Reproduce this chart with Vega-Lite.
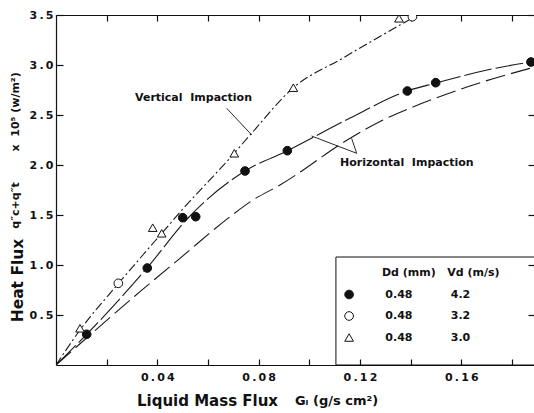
{
"$schema":"https://vega.github.io/schema/vega-lite/v6.json",
"width":478,"height":350,
"autosize":{"type":"none"},
"padding":{"left":56,"top":15,"right":0,"bottom":48},
"background":"white",
"config":{
 "view":{"stroke":null},
 "font":"DejaVu Sans",
 "axis":{"labelFont":"DejaVu Sans","labelFontWeight":"bold","labelFontSize":11,"labelColor":"#111","titleFont":"DejaVu Sans","titleColor":"#111","titleFontWeight":"bold","domainColor":"#111","tickColor":"#111","grid":false,"domainWidth":1.2,"tickWidth":1.2,"labelFlush":false,"labelOverlap":false}
},
"datasets":{
 "curves":[
  {"c":"upper","x":0,"y":0},{"c":"upper","x":0.00948,"y":0.35},{"c":"upper","x":0.02448,"y":0.81},{"c":"upper","x":0.03395,"y":1.09},{"c":"upper","x":0.04185,"y":1.32},{"c":"upper","x":0.04974,"y":1.55},{"c":"upper","x":0.06869,"y":2.07},{"c":"upper","x":0.07698,"y":2.31},{"c":"upper","x":0.09357,"y":2.77},{"c":"upper","x":0.1133,"y":3.07},{"c":"upper","x":0.1358,"y":3.40},{"c":"upper","x":0.1429,"y":3.5},
  {"c":"middle","x":0,"y":0},{"c":"middle","x":0.01224,"y":0.31},{"c":"middle","x":0.03593,"y":0.97},{"c":"middle","x":0.05251,"y":1.48},{"c":"middle","x":0.07462,"y":1.94},{"c":"middle","x":0.0912,"y":2.14},{"c":"middle","x":0.1161,"y":2.47},{"c":"middle","x":0.1386,"y":2.74},{"c":"middle","x":0.15,"y":2.82},{"c":"middle","x":0.1702,"y":2.95},{"c":"middle","x":0.1875,"y":3.03},
  {"c":"lower","x":0,"y":0},{"c":"lower","x":0.03316,"y":0.733},{"c":"lower","x":0.04895,"y":1.067},{"c":"lower","x":0.06869,"y":1.483},{"c":"lower","x":0.07777,"y":1.65},{"c":"lower","x":0.08843,"y":1.80},{"c":"lower","x":0.1161,"y":2.267},{"c":"lower","x":0.1291,"y":2.45},{"c":"lower","x":0.1409,"y":2.58},{"c":"lower","x":0.1634,"y":2.79},{"c":"lower","x":0.1871,"y":2.967}
 ],
 "points":[
  {"V":"4.2","x":0.01212,"y":0.307},{"V":"4.2","x":0.03604,"y":0.97},{"V":"4.2","x":0.05002,"y":1.473},{"V":"4.2","x":0.05515,"y":1.483},{"V":"4.2","x":0.07462,"y":1.94},{"V":"4.2","x":0.09132,"y":2.143},{"V":"4.2","x":0.1387,"y":2.74},{"V":"4.2","x":0.1499,"y":2.823},{"V":"4.2","x":0.1875,"y":3.03},
  {"V":"3.2","x":0.0246,"y":0.817},{"V":"3.2","x":0.1407,"y":3.483},
  {"V":"3.0","x":0.00948,"y":0.367},{"V":"3.0","x":0.03818,"y":1.373},{"V":"3.0","x":0.04173,"y":1.317},{"V":"3.0","x":0.07039,"y":2.117},{"V":"3.0","x":0.09369,"y":2.773},{"V":"3.0","x":0.1354,"y":3.467}
 ],
 "notes":[
  {"label":"Vertical\u00a0\u00a0Impaction","x":0.03119,"y":2.667},
  {"label":"Horizontal\u00a0\u00a0Impaction","x":0.1121,"y":2.023}
 ],
 "leaders":[
  {"x":0.06739,"y":2.567,"x2":0.07726,"y2":2.30},
  {"x":0.1009,"y":2.29,"x2":0.1187,"y2":2.117},
  {"x":0.1167,"y":2.267,"x2":0.1187,"y2":2.117}
 ]
},
"layer":[
 {"data":{"name":"curves"},
  "mark":{"type":"line","interpolate":"monotone","color":"#1a1a1a","strokeWidth":1.1,"clip":true},
  "encoding":{
   "x":{"field":"x","type":"quantitative","scale":{"domain":[0,0.1887],"nice":false,"zero":false},
    "axis":{"orient":"bottom","values":[0.02,0.04,0.06,0.08,0.1,0.12,0.14,0.16,0.18],"labelExpr":"round(datum.value*100) % 4 == 0 ? replace(format(datum.value, '.2f'), regexp('(.)(?=.)', 'g'), '$1\u2009') : ''","tickSize":-6,"labelPadding":12,"title":"Liquid Mass Flux","titleFontSize":15,"titleX":151,"titleY":35,"titleBaseline":"middle","titleAlign":"center"}},
   "y":{"field":"y","type":"quantitative","scale":{"domain":[0,3.5],"nice":false,"zero":false},
    "axis":{"orient":"left","values":[0.5,1,1.5,2,2.5,3,3.5],"labelExpr":"replace(format(datum.value, '.1f'), regexp('(.)(?=.)', 'g'), '$1\u2009')","tickSize":-7,"labelPadding":10,"title":"Heat Flux","titleFontSize":15.5,"titleX":-39,"titleY":265,"titleAngle":270,"titleBaseline":"middle","titleAlign":"center"}},
   "strokeDash":{"field":"c","type":"nominal","scale":{"domain":["upper","middle","lower"],"range":[[9,3,2,3],[28,4],[20,6]]},"legend":null}
  }},
 {"data":{"name":"leaders"},
  "mark":{"type":"rule","color":"#111","strokeWidth":0.9},
  "encoding":{
   "x":{"field":"x","type":"quantitative","scale":{"domain":[0,0.1887],"nice":false,"zero":false},"axis":null},
   "y":{"field":"y","type":"quantitative","scale":{"domain":[0,3.5],"nice":false,"zero":false},"axis":null},
   "x2":{"field":"x2"},"y2":{"field":"y2"}}},
 {"data":{"name":"notes"},
  "mark":{"type":"text","align":"left","baseline":"middle","font":"DejaVu Sans","fontWeight":"bold","fontSize":11,"color":"#111"},
  "encoding":{
   "x":{"field":"x","type":"quantitative","scale":{"domain":[0,0.1887],"nice":false,"zero":false},"axis":null},
   "y":{"field":"y","type":"quantitative","scale":{"domain":[0,3.5],"nice":false,"zero":false},"axis":null},
   "text":{"field":"label"}}},
 {"data":{"values":[{}]},
  "mark":{"type":"rect","fill":"white","fillOpacity":0,"stroke":"#111","strokeWidth":1},
  "encoding":{
   "x":{"datum":0.1105,"type":"quantitative","scale":{"domain":[0,0.1887],"nice":false,"zero":false},"axis":null},
   "x2":{"datum":0.2},
   "y":{"datum":0,"type":"quantitative","scale":{"domain":[0,3.5],"nice":false,"zero":false},"axis":null},
   "y2":{"datum":1.08}}},
 {"data":{"name":"points"},
  "mark":{"type":"point","strokeWidth":1,"size":75,"opacity":1,"clip":true},
  "encoding":{
   "x":{"field":"x","type":"quantitative","scale":{"domain":[0,0.1887],"nice":false,"zero":false},
    "axis":{"orient":"top","values":[0.02,0.04,0.06,0.08,0.1,0.12,0.14,0.16,0.18],"labels":false,"tickSize":-6,"title":"G\u2097 (g/s cm\u00b2)","titleFontSize":13,"titleX":280,"titleY":385,"titleBaseline":"middle","titleAlign":"center"}},
   "y":{"field":"y","type":"quantitative","scale":{"domain":[0,3.5],"nice":false,"zero":false},
    "axis":{"orient":"right","values":[0.5,1,1.5,2,2.5,3,3.5],"labels":false,"domain":false,"tickSize":-6,"title":"q\u2033c+q\u2033t\u00a0\u00a0\u00a0\u00a0\u00a0\u00a0\u00a0\u00a0x\u00a0\u00a010\u2075\u00a0(w/m\u00b2)","titleFontSize":11,"titleX":-519,"titleY":135,"titleAngle":270,"titleBaseline":"middle","titleAlign":"center"}},
   "shape":{"field":"V","type":"nominal","scale":{"domain":["4.2","3.2","3.0"],"range":["circle","circle","triangle-up"]},
    "legend":{"title":"\u200b\u00a0\u00a0\u00a0\u00a0\u00a0\u00a0\u00a0\u00a0\u00a0\u00a0Dd (mm)\u00a0\u00a0\u00a0Vd (m/s)","orient":"none","direction":"vertical","legendX":287.6,"legendY":252,"padding":0,"symbolSize":75,"symbolStrokeWidth":1,"labelExpr":"'0.48\u00a0\u00a0\u00a0\u00a0\u00a0\u00a0\u00a0\u00a0\u00a0\u00a0' + datum.label","labelFont":"DejaVu Sans","labelFontWeight":"bold","labelFontSize":11,"labelColor":"#111","labelOffset":30.7,"labelLimit":300,"rowPadding":8.5,"titlePadding":11,"titleFont":"DejaVu Sans","titleFontSize":11,"titleFontWeight":"bold","titleColor":"#111","titleLimit":400}},
   "fill":{"field":"V","type":"nominal","scale":{"domain":["4.2","3.2","3.0"],"range":["#111111","#ffffff","#ffffff"]},
    "legend":{"title":"\u200b\u00a0\u00a0\u00a0\u00a0\u00a0\u00a0\u00a0\u00a0\u00a0\u00a0Dd (mm)\u00a0\u00a0\u00a0Vd (m/s)","orient":"none","direction":"vertical","legendX":287.6,"legendY":252,"padding":0,"symbolSize":75,"symbolStrokeWidth":1,"labelExpr":"'0.48\u00a0\u00a0\u00a0\u00a0\u00a0\u00a0\u00a0\u00a0\u00a0\u00a0' + datum.label","labelFont":"DejaVu Sans","labelFontWeight":"bold","labelFontSize":11,"labelColor":"#111","labelOffset":30.7,"labelLimit":300,"rowPadding":8.5,"titlePadding":11,"titleFont":"DejaVu Sans","titleFontSize":11,"titleFontWeight":"bold","titleColor":"#111","titleLimit":400}},
   "stroke":{"field":"V","type":"nominal","scale":{"domain":["4.2","3.2","3.0"],"range":["#111111","#111111","#111111"]},
    "legend":{"title":"\u200b\u00a0\u00a0\u00a0\u00a0\u00a0\u00a0\u00a0\u00a0\u00a0\u00a0Dd (mm)\u00a0\u00a0\u00a0Vd (m/s)","orient":"none","direction":"vertical","legendX":287.6,"legendY":252,"padding":0,"symbolSize":75,"symbolStrokeWidth":1,"labelExpr":"'0.48\u00a0\u00a0\u00a0\u00a0\u00a0\u00a0\u00a0\u00a0\u00a0\u00a0' + datum.label","labelFont":"DejaVu Sans","labelFontWeight":"bold","labelFontSize":11,"labelColor":"#111","labelOffset":30.7,"labelLimit":300,"rowPadding":8.5,"titlePadding":11,"titleFont":"DejaVu Sans","titleFontSize":11,"titleFontWeight":"bold","titleColor":"#111","titleLimit":400}}
  }}
],
"resolve":{"axis":{"x":"independent","y":"independent"}}
}
